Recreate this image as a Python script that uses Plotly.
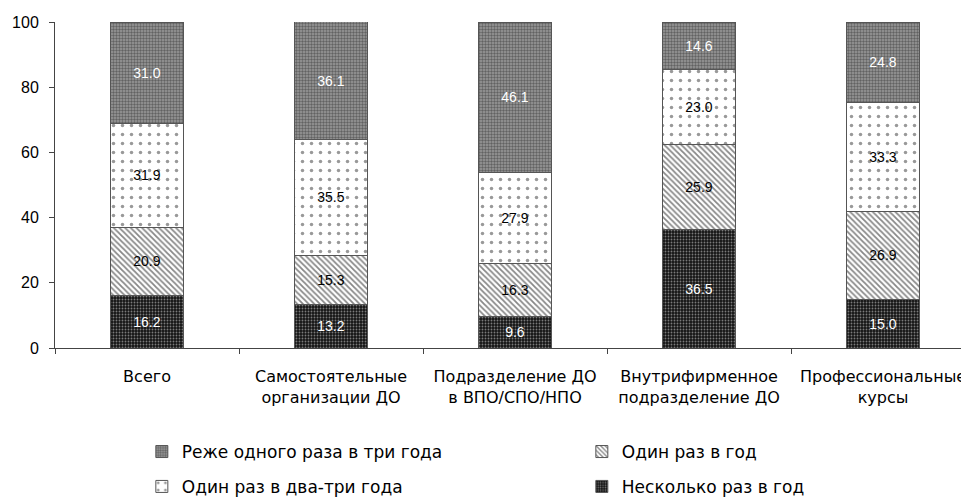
import plotly.graph_objects as go

categories = ["Всего", "Самостоятельные<br>организации ДО", "Подразделение ДО<br>в ВПО/СПО/НПО",
              "Внутрифирменное<br>подразделение ДО", "Профессиональные<br>курсы"]
several_per_year = [16.2, 13.2, 9.6, 36.5, 15.0]
once_per_year = [20.9, 15.3, 16.3, 25.9, 26.9]
once_2_3_years = [31.9, 35.5, 27.9, 23.0, 33.3]
less_than_3_years = [31.0, 36.1, 46.1, 14.6, 24.8]
y_ticks = [0, 20, 40, 60, 80, 100]

FONT = "DejaVu Sans, sans-serif"
NUMFONT = "Liberation Sans Narrow, Liberation Sans, Arial, sans-serif"

series = [
    ("Несколько раз в год", several_per_year,
     dict(shape=".", fgcolor="#e0e0e0", bgcolor="#151515", size=3, solidity=0.3), "white", "legend2"),
    ("Один раз в год", once_per_year,
     dict(shape="\\", fgcolor="#111111", bgcolor="white", size=4, solidity=0.45), "black", "legend"),
    ("Один раз в два-три года", once_2_3_years,
     dict(shape=".", fgcolor="#333333", bgcolor="white", size=9, solidity=0.12), "black", "legend2"),
    ("Реже одного раза в три года", less_than_3_years,
     dict(shape=".", fgcolor="#2a2a2a", bgcolor="#9a9a9a", size=3, solidity=0.5), "white", "legend"),
]
ranks = {"Реже одного раза в три года": 1, "Один раз в год": 2,
         "Один раз в два-три года": 1, "Несколько раз в год": 2}

fig = go.Figure()
for name, vals, pat, tcolor, leg in series:
    fig.add_trace(go.Bar(
        name=name, x=categories, y=vals,
        marker=dict(color=pat["bgcolor"], pattern=pat, line=dict(color="#555555", width=1)),
        text=[f"{v:.1f}" for v in vals], textposition="inside", insidetextanchor="middle",
        textfont=dict(family=NUMFONT, size=14, color=tcolor),
        textangle=0, legend=leg, legendrank=ranks[name], width=0.4,
    ))

legend_common = dict(orientation="h", x=0.095, xanchor="left", yanchor="middle",
                     entrywidth=395, entrywidthmode="pixels", traceorder="normal",
                     font=dict(family=FONT, size=17), bgcolor="rgba(0,0,0,0)")

# page body has an 8px margin, so the figure is sized to fill the rest of the window
fig.update_layout(
    barmode="stack",
    width=961, height=490,
    margin=dict(l=47, r=0, t=14, b=150, autoexpand=False),
    plot_bgcolor="white", paper_bgcolor="white",
    font=dict(family=FONT, size=16, color="black"),
    showlegend=True,
    legend=dict(y=-0.319, **legend_common),
    legend2=dict(y=-0.426, **legend_common),
    uniformtext=dict(mode="show", minsize=12),
)
fig.update_xaxes(
    range=[-0.5, 4.467], showline=True, linecolor="#444", linewidth=1,
    ticks="outside", tickson="boundaries", ticklen=5, tickcolor="#444",
    tickfont=dict(family=FONT, size=16), showgrid=False, ticklabelstandoff=14,
)
fig.update_yaxes(
    range=[0, 100], tickvals=y_ticks, showline=True, linecolor="#444", linewidth=1,
    ticks="outside", ticklen=5, tickcolor="#444", showgrid=False, zeroline=False,
    tickfont=dict(family="Liberation Sans, Arial, sans-serif", size=16), ticklabelstandoff=7,
)

fig.write_html("out.html")
